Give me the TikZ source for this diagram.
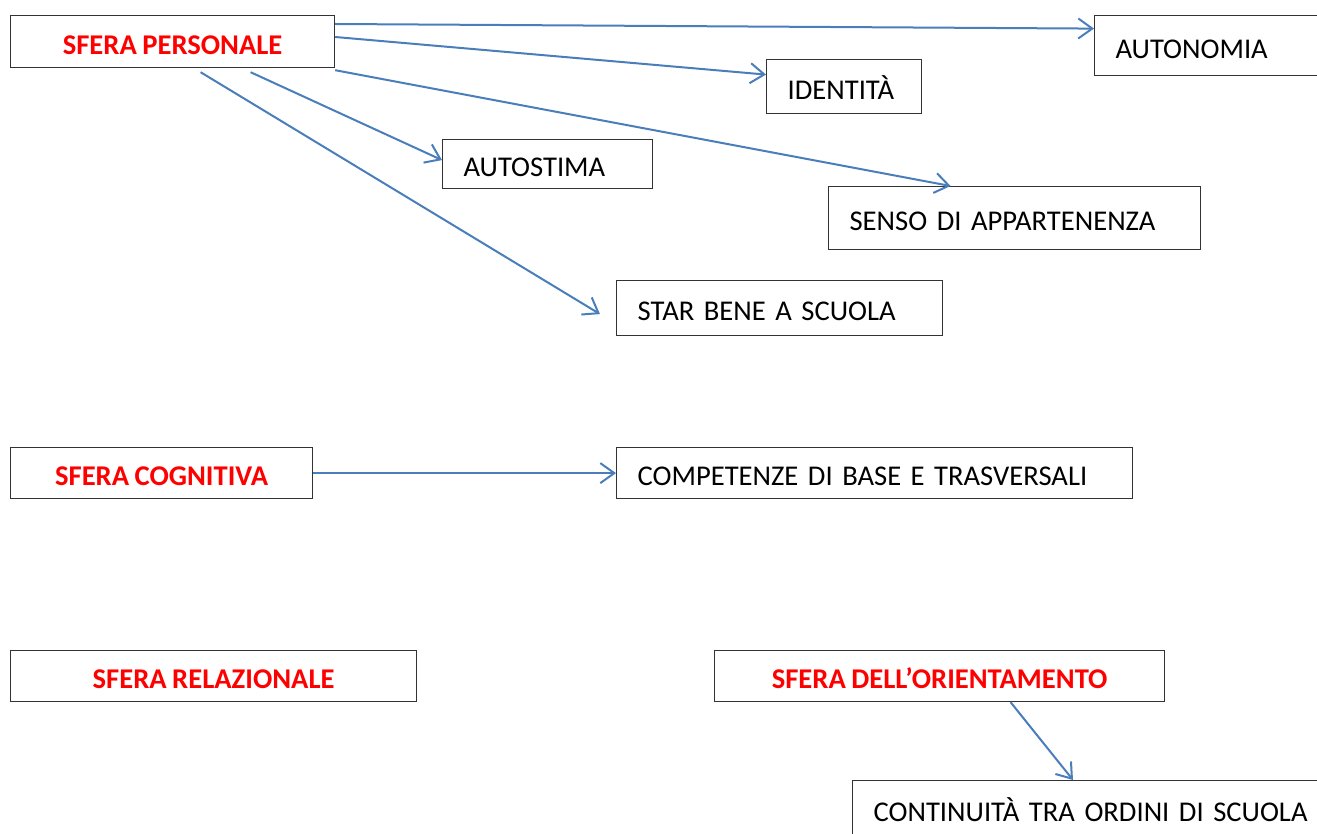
\documentclass[tikz,border=0pt]{standalone}
\usepackage{fontspec}
\setmainfont{Carlito}[WordSpace=0.85]
\usetikzlibrary{arrows.meta}

\definecolor{freccia}{HTML}{4A7EBB}
\definecolor{rosso}{HTML}{FF0000}

\tikzset{
  box/.style={draw=black!80, line width=0.6pt, anchor=north west, inner sep=0pt,
    text height=13.5pt, text depth=1pt, font=\fontsize{14.3}{17}\selectfont},
  sfera/.style={box, text=rosso, font=\fontsize{14.3}{17}\selectfont\bfseries},
  voce/.style={box, text width=#1, align=left, inner xsep=10.5pt},
  collega/.style={freccia, line width=1pt, -{Straight Barb[length=7pt,width=10pt]}}
}

\begin{document}
\begin{tikzpicture}[x=0.5pt,y=-0.5pt] % mappa delle sfere

\useasboundingbox (0,0) rectangle (1317,834);
\clip (0,0) rectangle (1317,834);

% sfere
\node[sfera, minimum width=162pt, minimum height=26pt] (pers) at (10,15) {SFERA PERSONALE};
\node[sfera, minimum width=151pt, minimum height=25.5pt] (cogn) at (10,447) {SFERA COGNITIVA};
\node[sfera, minimum width=203pt, minimum height=25.5pt] (rela) at (10,650) {SFERA RELAZIONALE};
\node[sfera, minimum width=225pt, minimum height=25.5pt] (orie) at (714,650) {SFERA DELL’ORIENTAMENTO};

% voci
\node[voce=120pt, minimum height=30pt] (auto) at (1094,15) {AUTONOMIA};
\node[voce=56.5pt, minimum height=27pt] (iden) at (766,59) {IDENTITÀ};
\node[voce=84pt, minimum height=24.5pt] (stima) at (442,139) {AUTOSTIMA};
\node[voce=165pt, minimum height=31.5pt] (senso) at (828,186) {SENSO DI APPARTENENZA};
\node[voce=142pt, minimum height=27.5pt] (star) at (616,280) {STAR BENE A SCUOLA};
\node[voce=237pt, minimum height=25.5pt] (comp) at (616,447) {COMPETENZE DI BASE E TRASVERSALI};
\node[voce=240pt, minimum height=28pt] (cont) at (852,780) {CONTINUITÀ TRA ORDINI DI SCUOLA};

% frecce
\draw[collega] ([yshift=-4.5pt]pers.north east) -- ([yshift=8.5pt]auto.west);
\draw[collega] ([yshift=-11pt]pers.north east) -- ([yshift=6pt]iden.west);
\draw[collega] ([yshift=-1pt]pers.south east) -- ([xshift=-32pt]senso.north);
\draw[collega] ([xshift=39pt,yshift=-2pt]pers.south) -- ([yshift=2pt]stima.west);
\draw[collega] ([xshift=14pt,yshift=-2pt]pers.south) -- ([xshift=-8pt,yshift=-3pt]star.west);

\draw[collega] (cogn.east) -- (comp.west);

\draw[collega] ([xshift=35.5pt]orie.south) -- ([xshift=110.5pt]cont.north west);

\end{tikzpicture}
\end{document}
